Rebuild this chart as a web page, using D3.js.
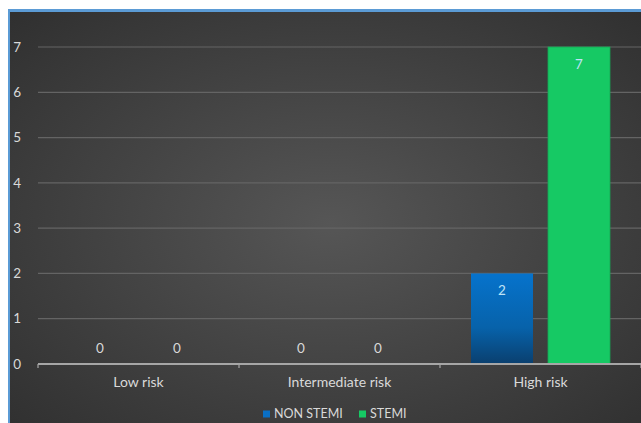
<!DOCTYPE html>
<html>
<head>
<meta charset="utf-8">
<script src="https://cdn.jsdelivr.net/npm/d3@7/dist/d3.min.js"></script>
<style>
  html, body { margin: 0; padding: 0; background: #ffffff; }
  svg { display: block; }
</style>
</head>
<body>
<svg id="chart" width="641" height="423"></svg>
<script>
// Risk categories and patient counts per series
const categories = ["Low risk", "Intermediate risk", "High risk"];
const seriesNames = ["NON STEMI", "STEMI"];
const nonStemi = [0, 0, 2];
const stemi = [0, 0, 7];
const yTicks = [0, 1, 2, 3, 4, 5, 6, 7];
const seriesColors = ["#0a6fc4", "#16c964"];

const svg = d3.select("#chart");
const W = 641, H = 423;
const font = "Lato, 'Open Sans', sans-serif";

const defs = svg.append("defs");
const bg = defs.append("radialGradient").attr("id", "bgGrad")
  .attr("cx", "50%").attr("cy", "50%").attr("r", "70%");
bg.append("stop").attr("offset", "0%").attr("stop-color", "#565656");
bg.append("stop").attr("offset", "100%").attr("stop-color", "#303030");

const blueGrad = defs.append("linearGradient").attr("id", "blueGrad")
  .attr("x1", 0).attr("y1", 0).attr("x2", 0).attr("y2", 1);
blueGrad.append("stop").attr("offset", "0%").attr("stop-color", "#0673cc");
blueGrad.append("stop").attr("offset", "60%").attr("stop-color", "#0762aa");
blueGrad.append("stop").attr("offset", "100%").attr("stop-color", "#0a3f6e");

// chart frame
svg.append("rect").attr("x", 8).attr("y", 9).attr("width", W).attr("height", H)
  .attr("fill", "#5b9bd5");
svg.append("rect").attr("x", 10).attr("y", 12).attr("width", W).attr("height", H)
  .attr("fill", "url(#bgGrad)");

const plot = { left: 38, right: 641, top: 47, bottom: 364 };

const x0 = d3.scaleBand().domain(categories)
  .range([plot.left, plot.right]).paddingInner(0).paddingOuter(0);
const x1 = d3.scaleBand().domain(seriesNames)
  .range([31, x0.bandwidth() - 31]).paddingInner(15 / 77).paddingOuter(0);
const y = d3.scaleLinear().domain([0, 7]).range([plot.bottom, plot.top]);

// gridlines
svg.append("g").selectAll("line").data(yTicks.filter(d => d > 0)).join("line")
  .attr("x1", plot.left).attr("x2", plot.right)
  .attr("y1", d => y(d)).attr("y2", d => y(d))
  .attr("stroke", "#646464").attr("stroke-width", 1.2);

// y-axis labels
svg.append("g").selectAll("text").data(yTicks).join("text")
  .attr("x", 21).attr("y", d => y(d)).attr("dy", "0.35em")
  .attr("text-anchor", "end")
  .attr("font-family", font).attr("font-size", 13.5)
  .attr("fill", "#d9d9d9").text(d => d);

// bars
const rows = categories.map((c, i) => ({ cat: c, vals: [nonStemi[i], stemi[i]] }));
const groups = svg.append("g").selectAll("g").data(rows).join("g")
  .attr("transform", d => `translate(${x0(d.cat)},0)`);

const cells = groups.selectAll("g").data(d => d.vals.map((v, j) => ({ v, s: seriesNames[j], j })))
  .join("g");

cells.filter(d => d.v > 0).append("rect")
  .attr("x", d => x1(d.s)).attr("width", x1.bandwidth())
  .attr("y", d => y(d.v)).attr("height", d => y(0) - y(d.v))
  .attr("fill", d => d.j === 0 ? "url(#blueGrad)" : seriesColors[1])
  .attr("stroke", d => d.j === 0 ? "none" : "#14a854").attr("stroke-width", 0.8);

// value labels
cells.append("text")
  .attr("x", d => x1(d.s) + x1.bandwidth() / 2)
  .attr("y", d => d.v > 0 ? y(d.v) + 17 : y(d.v) - 16)
  .attr("dy", "0.35em").attr("text-anchor", "middle")
  .attr("font-family", font).attr("font-size", 13.5)
  .attr("fill", d => d.v > 0 ? "#bfe3f7" : "#d9d9d9")
  .text(d => d.v);

// x axis line and ticks
svg.append("line").attr("x1", plot.left).attr("x2", plot.right)
  .attr("y1", y(0)).attr("y2", y(0))
  .attr("stroke", "#a6a6a6").attr("stroke-width", 2);
const boundaries = categories.map(c => x0(c)).concat([x0(categories[2]) + x0.bandwidth()]);
svg.append("g").selectAll("line").data(boundaries).join("line")
  .attr("x1", d => d).attr("x2", d => d)
  .attr("y1", y(0)).attr("y2", y(0) + 4)
  .attr("stroke", "#a6a6a6").attr("stroke-width", 1.2);

// category labels
svg.append("g").selectAll("text").data(categories).join("text")
  .attr("x", d => x0(d) + x0.bandwidth() / 2).attr("y", 382)
  .attr("dy", "0.35em").attr("text-anchor", "middle")
  .attr("font-family", font).attr("font-size", 14)
  .attr("fill", "#d9d9d9").text(d => d);

// legend
const legend = svg.append("g");
const legendItems = [
  { name: seriesNames[0], x: 263, color: seriesColors[0] },
  { name: seriesNames[1], x: 359, color: seriesColors[1] }
];
const li = legend.selectAll("g").data(legendItems).join("g")
  .attr("transform", d => `translate(${d.x},414)`);
li.append("rect").attr("x", 0).attr("y", -3.5).attr("width", 7).attr("height", 7)
  .attr("fill", d => d.color);
li.append("text").attr("x", 11).attr("y", 0).attr("dy", "0.35em")
  .attr("font-family", font).attr("font-size", 12.5)
  .attr("fill", "#d9d9d9").text(d => d.name);
</script>
</body>
</html>
